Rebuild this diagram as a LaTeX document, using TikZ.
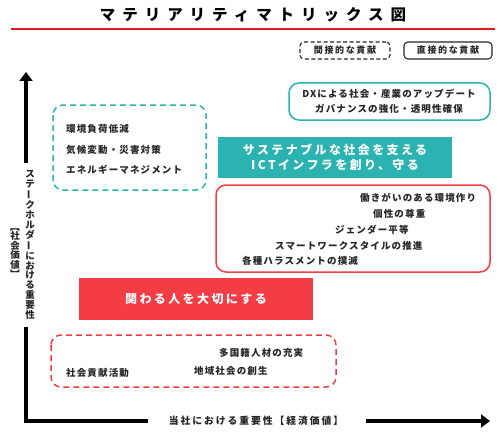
\documentclass[tikz,border=0pt]{standalone}
\usepackage{fontspec}
\setmainfont{Noto Sans CJK JP}
\newfontfamily\jpsmall[LetterSpace=12]{Noto Sans CJK JP}
\newfontfamily\jptitle[LetterSpace=45]{Noto Sans CJK JP}
\newfontfamily\jpbig[LetterSpace=20]{Noto Sans CJK JP}
\newfontfamily\jplegend[LetterSpace=18]{Noto Sans CJK JP}
\usetikzlibrary{arrows.meta}
\definecolor{tealc}{HTML}{2AB3B0}
\definecolor{redc}{HTML}{F43C45}
\definecolor{txt}{HTML}{262626}
\definecolor{rline}{HTML}{E21A1A}
\tikzset{
  sm/.style={inner sep=0pt, text=txt, font=\jpsmall\fontsize{9.5}{10}\selectfont\bfseries},
  big/.style={inner sep=0pt, text=white, align=center, font=\jpbig\fontsize{12}{15.5}\selectfont\bfseries},
  leg/.style={draw=txt, line width=1.1pt, rounded corners=4pt, minimum width=88pt, minimum height=17pt, inner sep=0pt, text=txt, font=\jplegend\fontsize{9}{10}\selectfont\bfseries},
  axisline/.style={line width=3.5pt, draw=black},
  axisarrow/.style={axisline, -{Triangle[length=9pt,width=13pt]}},
  box/.style={anchor=north west, inner sep=0pt, line width=1.5pt, rounded corners=10pt},
}
\begin{document}
\begin{tikzpicture}[x=1pt,y=-1pt]
\useasboundingbox (0,0) rectangle (502,433);
\fill[white] (0,0) rectangle (502,433);
% title
\node[inner sep=0pt, font=\jptitle\fontsize{15.5}{16}\selectfont\bfseries] (title) at (253,15) {マテリアリティマトリックス図};
\coordinate (rl) at (11,29);
\coordinate (rr) at (495,29);
\draw[rline, line width=2pt] (rl) -- (rr);
% legend
\node[leg, dashed, dash pattern=on 4pt off 2.5pt, minimum width=90pt] (legA) at (345,50.5) {間接的な貢献};
\node[leg] (legB) at (448,50.5) {直接的な貢献};
% axes
\coordinate (ytop) at (26,72);
\coordinate (ygapA) at (26,163);
\coordinate (ygapB) at (26,327);
\coordinate (origin) at (26,421);
\coordinate (xgapA) at (148,421);
\coordinate (xgapB) at (366,421);
\coordinate (xend) at (490,421);
\draw[axisarrow] (ygapA) -- (ytop);
\draw[axisline] (ygapB) -- (origin.center) -- (xgapA);
\draw[axisarrow] (xgapB) -- (xend);
\node[inner sep=0pt, align=center, text=txt, font=\fontsize{9.5}{9.9}\selectfont\bfseries, anchor=north] (ylab) at (30,170)
 {ス\\テ\\\rotatebox[origin=c]{90}{ー}\\ク\\ホ\\ル\\ダ\\\rotatebox[origin=c]{90}{ー}\\に\\お\\け\\る\\重\\要\\性};
\node[inner sep=0pt, align=center, text=txt, font=\fontsize{9.5}{9.4}\selectfont\bfseries, anchor=north] (ylab2) at (15,222)
 {\rotatebox[origin=c]{-90}{【}\\社\\会\\価\\値\\\rotatebox[origin=c]{-90}{】}};
\node[inner sep=0pt, text=txt, font=\jpbig\fontsize{9.8}{10}\selectfont\bfseries] (xlab) at (256,421) {当社における重要性【経済価値】};
% teal dashed box
\draw[box, draw=tealc, dashed, dash pattern=on 6pt off 4pt] (53,105) rectangle (206,190);
\node[sm, anchor=west] (e1) at (66,129) {環境負荷低減};
\node[sm, anchor=west] (e2) at (66,150) {気候変動・災害対策};
\node[sm, anchor=west] (e3) at (66,170) {エネルギーマネジメント};
% teal DX box
\draw[box, draw=tealc] (289,83) rectangle (490,120);
\node[sm] (dx1) at (389,93.5) {DXによる社会・産業のアップデート};
\node[sm] (dx2) at (389,108.5) {ガバナンスの強化・透明性確保};
% teal filled
\fill[tealc] (218,137) rectangle (452,178);
\node[big] (main1) at (335,157.5) {サステナブルな社会を支える\\ICTインフラを創り、守る};
% red rounded box
\draw[box, draw=redc] (216,185) rectangle (490,272);
\node[sm, anchor=west] (r1) at (360,198) {働きがいのある環境作り};
\node[sm, anchor=west] (r2) at (373,214) {個性の尊重};
\node[sm, anchor=west] (r3) at (335,230) {ジェンダー平等};
\node[sm, anchor=west] (r4) at (275,245.5) {スマートワークスタイルの推進};
\node[sm, anchor=west] (r5) at (242,261) {各種ハラスメントの撲滅};
% red filled
\fill[redc] (79,278) rectangle (313,320);
\node[big] (main2) at (196,299) {関わる人を大切にする};
% red dashed box
\draw[box, draw=redc, dashed, dash pattern=on 6pt off 4pt] (51,335) rectangle (336,387);
\node[sm, anchor=west] (d1) at (219,352.5) {多国籍人材の充実};
\node[sm, anchor=west] (d2) at (66,373) {社会貢献活動};
\node[sm, anchor=west] (d3) at (194,371) {地域社会の創生};
\end{tikzpicture}
\end{document}
